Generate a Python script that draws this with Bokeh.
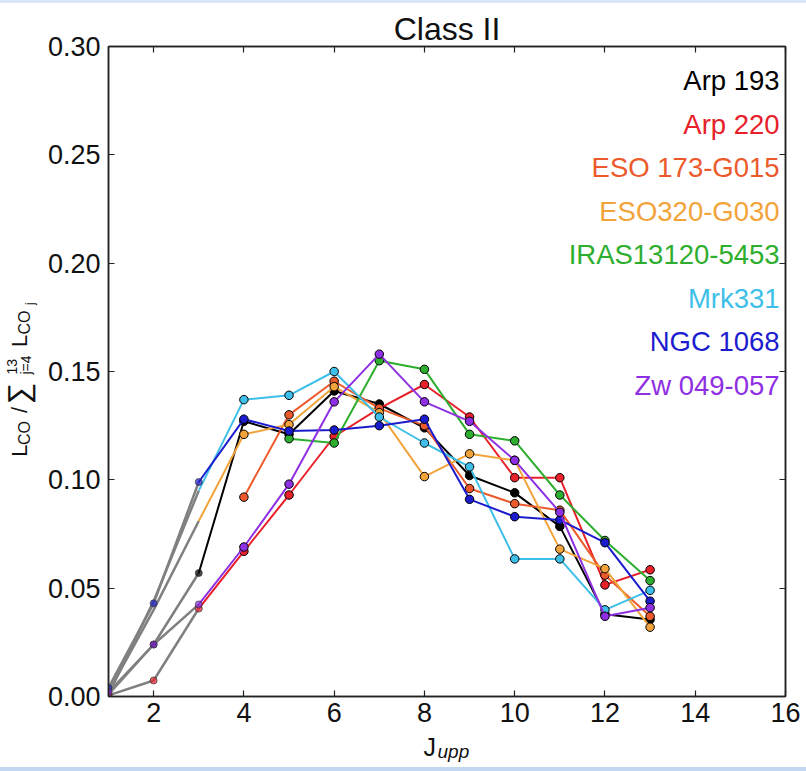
import numpy as np
from bokeh.plotting import figure
from bokeh.models import (LinearAxis, FixedTicker, PrintfTickFormatter,
                          Div, ColumnDataSource, Range1d, Title)
from bokeh.layouts import column, row
from bokeh.core.properties import value
from bokeh.embed import file_html
from bokeh.resources import INLINE

# ---- data -------------------------------------------------------------
# upper level J (J=3..13) for the normalised CO ladder
j_main = [3, 4, 5, 6, 7, 8, 9, 10, 11, 12, 13]
# low-J part (J=1..3), drawn in grey
j_low = [1, 2, 3]

nan = float("nan")

arp193 = [0.057, 0.127, 0.121, 0.141, 0.135, 0.124, 0.102, 0.094, 0.0785, 0.038, 0.0355]
arp220 = [0.0406, 0.067, 0.093, 0.120, 0.133, 0.144, 0.129, 0.101, 0.101, 0.0515, 0.0585]
eso173 = [nan, 0.092, 0.130, 0.1455, 0.133, 0.125, 0.096, 0.089, 0.086, 0.056, 0.037]
eso320 = [0.081, 0.121, 0.1255, 0.143, 0.131, 0.1015, 0.112, 0.109, 0.068, 0.059, 0.032]
iras13120 = [nan, nan, 0.119, 0.117, 0.155, 0.151, 0.121, 0.118, 0.093, 0.072, 0.0535]
mrk331 = [0.095, 0.137, 0.139, 0.150, 0.129, 0.117, 0.106, 0.0635, 0.0635, 0.040, 0.049]
ngc1068 = [0.099, 0.128, 0.1225, 0.123, 0.125, 0.128, 0.091, 0.083, 0.0815, 0.071, 0.044]
zw049 = [0.0425, 0.069, 0.098, 0.136, 0.158, 0.136, 0.127, 0.109, 0.085, 0.037, 0.041]

arp193_low = [0.001, 0.024, 0.057]
arp220_low = [0.0005, 0.0074, 0.0406]
eso320_low = [0.002, 0.040, 0.081]
mrk331_low = [0.001, 0.044, 0.095]
ngc1068_low = [0.004, 0.043, 0.099]
zw049_low = [0.002, 0.024, 0.0425]

names = ["Arp 193", "Arp 220", "ESO 173-G015", "ESO320-G030",
         "IRAS13120-5453", "Mrk331", "NGC 1068", "Zw 049-057"]
colors = ["#000000", "#e8202a", "#ec5a2c", "#f2a43a",
          "#2eae2e", "#3dbfe9", "#1c1ccf", "#8f2fe3"]

y_ticks = [0.0, 0.05, 0.10, 0.15, 0.20, 0.25, 0.30]
x_ticks = [2, 4, 6, 8, 10, 12, 14, 16]

series = [
    (arp193, arp193_low, True),
    (arp220, arp220_low, True),
    (eso173, None, False),
    (eso320, eso320_low, False),
    (iras13120, None, False),
    (mrk331, mrk331_low, False),
    (ngc1068, ngc1068_low, True),
    (zw049, zw049_low, True),
]

# ---- page geometry (rows of the page, top to bottom) --------------------
W = 806
STRIP_TOP, MAIN_H, XLAB_H, STRIP_BOT = 3, 729, 35, 4
LEFT_W = 44
MAIN_W = W - LEFT_W
FONT = "Liberation Sans"
INK = "#111111"


def text_canvas(w, h):
    """Axis-free figure whose data units are pixels, for free-standing text."""
    f = figure(width=w, height=h, x_range=Range1d(0, w), y_range=Range1d(0, h),
               output_backend="svg", toolbar_location=None, min_border=0,
               x_axis_type=None, y_axis_type=None, title=None)
    f.outline_line_color = None
    f.background_fill_color = "white"
    f.border_fill_color = "white"
    return f


def put_text(f, h, txt, x, y_from_top, size, align="left", angle=0.0,
             style="normal"):
    # (x, y_from_top) is the middle of the text line
    f.text(x=[x], y=[h - y_from_top], text=[txt], text_font=value(FONT),
           text_font_size=size, text_font_style=style, angle=angle,
           text_align=align, text_baseline="middle", text_color=INK)


# ---- main panel ---------------------------------------------------------
p = figure(width=MAIN_W, height=MAIN_H, output_backend="svg",
           toolbar_location=None,
           title=Title(text="Class II", align="center", text_font=FONT,
                       text_font_size="32px", text_font_style="normal",
                       text_color=INK, standoff=0),
           x_range=Range1d(1, 16), y_range=Range1d(0, 0.30),
           min_border_left=64, min_border_right=21,
           min_border_top=43, min_border_bottom=36)
p.background_fill_color = "white"
p.border_fill_color = "white"
p.outline_line_color = "#222222"
p.outline_line_width = 1.5
p.xgrid.visible = False
p.ygrid.visible = False

bottom_axis = p.below[0]
left_axis = p.left[0]
bottom_axis.ticker = FixedTicker(ticks=x_ticks)
left_axis.ticker = FixedTicker(ticks=y_ticks)
left_axis.formatter = PrintfTickFormatter(format="%.2f")

# mirrored tick marks on the top and right edges, without labels
top_axis = LinearAxis(ticker=FixedTicker(ticks=x_ticks),
                      major_label_overrides={t: "" for t in x_ticks})
right_axis = LinearAxis(ticker=FixedTicker(ticks=y_ticks),
                        major_label_overrides={t: "" for t in y_ticks})
p.add_layout(top_axis, "above")
p.add_layout(right_axis, "right")

for ax in [bottom_axis, left_axis, top_axis, right_axis]:
    ax.axis_line_color = "#222222"
    ax.axis_line_width = 1.5
    ax.major_tick_in = 6
    ax.major_tick_out = 0
    ax.major_tick_line_color = "#222222"
    ax.major_tick_line_width = 1.2
    ax.minor_tick_in = 0
    ax.minor_tick_out = 0
    ax.major_label_text_font = FONT
    ax.major_label_text_font_size = "27px"
    ax.major_label_text_color = INK
for ax in [top_axis, right_axis]:
    ax.major_label_standoff = 0
    ax.major_label_text_font_size = "1px"
bottom_axis.major_label_standoff = 6
left_axis.major_label_standoff = 8

# grey low-J segments
for vals, low, marked in series:
    if low is not None:
        p.line(j_low, low, line_color="#808080", line_width=2.5)

# coloured ladders with markers
for (vals, low, marked), col in zip(series, colors):
    p.line(j_main, vals, line_color=col, line_width=2)
    if low is not None and marked:
        p.scatter(j_low, low, size=7, fill_color=col, fill_alpha=0.7,
                  line_color="#333333", line_alpha=0.7, line_width=1)
    p.scatter(j_main[1:], vals[1:], size=8.5, fill_color=col,
              line_color="black", line_width=1)

# galaxy names, right-aligned in the upper right corner
name_src = ColumnDataSource(dict(
    x=[15.87] * len(names),
    y=[0.2841 - i * 0.02008 for i in range(len(names))],
    text=names, color=colors))
p.text(x="x", y="y", text="text", text_color="color", source=name_src,
       text_align="right", text_baseline="middle",
       text_font=value(FONT), text_font_size="27.5px")

# ---- rotated y label: L_CO / sum_{j=4}^{13} L_CO_j ----------------------
ylab_fig = text_canvas(LEFT_W, MAIN_H)
ROW_TOP = STRIP_TOP                    # page row where this strip begins
ylab = [
    # text, size, middle-line x, start (page row, text runs upward)
    ("L", "22px", 19, 463),
    ("CO", "16px", 24, 450),
    ("/", "22px", 19, 414),
    ("\u2211", "30px", 18, 404),
    ("13", "14px", 11, 371),
    ("j=4", "14px", 25, 371),
    ("L", "22px", 19, 340),
    ("CO", "16px", 24, 326),
    ("j", "12px", 29, 293),
]
for txt, size, mx, start in ylab:
    put_text(ylab_fig, MAIN_H, txt, mx, start - ROW_TOP, size, angle=np.pi / 2)

# ---- x label: J with italic subscript "upp" -------------------------------
XROW_TOP = ROW_TOP + MAIN_H
xlab_fig = text_canvas(W, XLAB_H)
put_text(xlab_fig, XLAB_H, "J", 423, 746 - XROW_TOP, "25px")
put_text(xlab_fig, XLAB_H, "upp", 437, 751 - XROW_TOP, "19px", style="italic")

top_strip = Div(width=W, height=STRIP_TOP, margin=0,
                styles={"background-color": "#d9e6f5"})
bottom_strip = Div(width=W, height=STRIP_BOT, margin=0,
                   styles={"background-color": "#c2d8f1"})
layout = column(top_strip, row(ylab_fig, p, spacing=0), xlab_fig,
                bottom_strip, spacing=0)

open("out.html", "w").write(file_html(layout, INLINE))
